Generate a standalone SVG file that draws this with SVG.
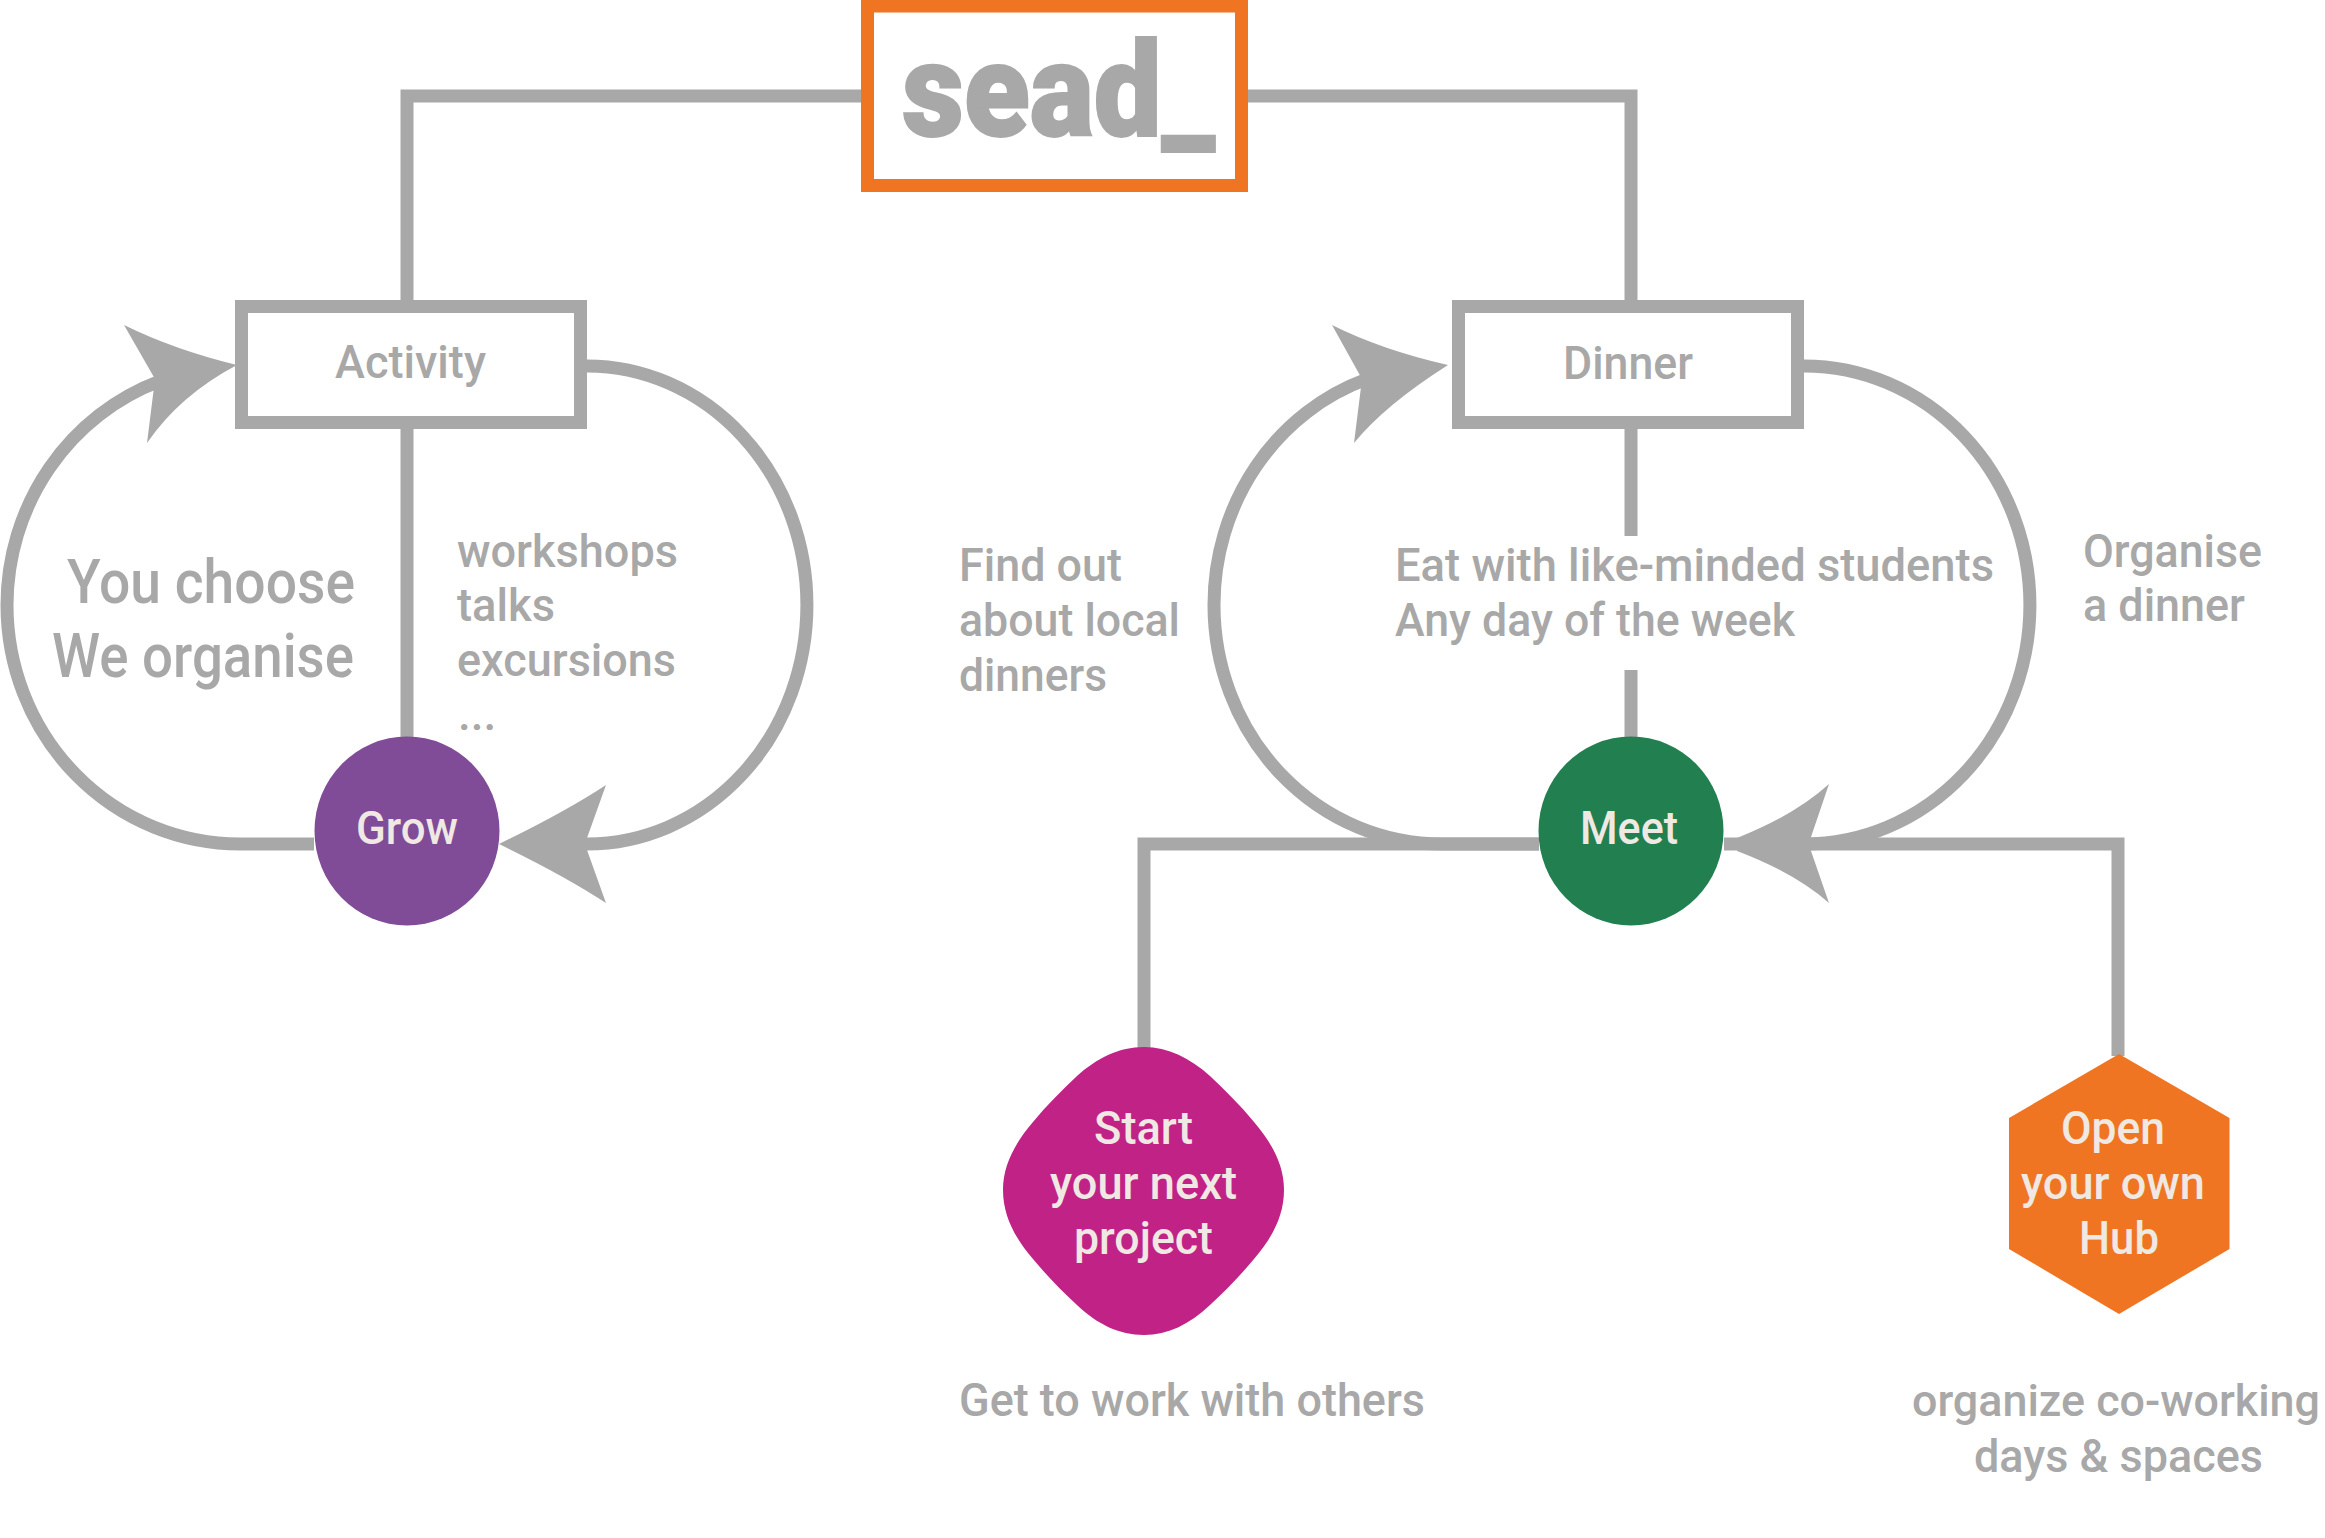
<svg xmlns="http://www.w3.org/2000/svg" width="2325" height="1538" viewBox="0 0 2325 1538">
<style>
text{font-family:Roboto,"Liberation Sans",sans-serif;}
.t{font-size:46px;fill:#a8a8a8;font-weight:500;}
.big{font-size:62px;fill:#a8a8a8;font-weight:500;}
.w{font-size:46px;fill:#efe8e3;font-weight:500;}
.box{fill:#fff;stroke:#a8a8a8;stroke-width:13;}
.c{fill:none;stroke:#a8a8a8;stroke-width:13;}
.a{fill:#a8a8a8;stroke:none;}
</style>
<rect width="2325" height="1538" fill="#fff"/>
<g id="connectors">
<path class="c" d="M861 96H407V300"/>
<path class="c" d="M1236 96H1631V300"/>
<path class="c" d="M407 429V737"/>
<path class="c" d="M1631 429V536"/>
<path class="c" d="M1631 670V737"/>
<path class="c" d="M314 844H240A233 239 0 0 1 7 605A233 239 0 0 1 160 381"/>
<path class="c" d="M587 366A220 239 0 0 1 587 844"/>
<path class="a" d="M237 365Q175 350 124 325L155 379L147 443Q180 395 237 365Z"/>
<path class="a" d="M499 844Q565 812 606 785L587 838V850L606 903Q565 876 499 844Z"/>
<path class="c" d="M1539 844H1442A228 239 0 0 1 1214 605A228 239 0 0 1 1367 379"/>
<path class="c" d="M1804 366A226 239 0 0 1 1804 844"/>
<path class="a" d="M1448 365Q1382 350 1332 325L1362 379L1354 443Q1385 405 1448 365Z"/>
<path class="a" d="M1737 838Q1795 815 1829 784L1811 837V851L1829 903Q1795 873 1737 851Z"/>
<path class="c" d="M1539 844H1144V1050"/>
<path class="c" d="M1724 844H2118V1056"/>
</g>
<g id="sead"><rect x="867.5" y="6" width="374" height="179.5" fill="none" stroke="#f07522" stroke-width="13"/><text x="902" y="136" font-size="132" font-weight="900" fill="#a8a8a8" stroke="#a8a8a8" stroke-width="2" textLength="313" lengthAdjust="spacingAndGlyphs">sead_</text></g>
<g id="activity"><rect class="box" x="241.5" y="306.5" width="339" height="116"/><text class="t" x="335" y="378" textLength="151" lengthAdjust="spacingAndGlyphs">Activity</text></g>
<g id="dinner"><rect class="box" x="1458.5" y="306.5" width="339" height="116"/><text class="t" x="1563" y="379" textLength="130" lengthAdjust="spacingAndGlyphs">Dinner</text></g>
<g id="grow"><ellipse cx="407" cy="831" rx="92.5" ry="94.5" fill="#804c97"/><text class="w" x="356" y="844" textLength="102" lengthAdjust="spacingAndGlyphs">Grow</text></g>
<g id="meet"><ellipse cx="1631" cy="831" rx="92.5" ry="94.5" fill="#227f50"/><text class="w" x="1580" y="844" textLength="98" lengthAdjust="spacingAndGlyphs">Meet</text></g>
<g id="project"><path fill="#c12286" d="M1144 1047C1168 1047 1190 1058 1210 1076C1225 1090 1240 1105 1254 1122C1272 1143 1284 1165 1284 1190C1284 1216 1272 1238 1254 1259C1240 1276 1225 1291 1210 1305C1190 1324 1168 1335 1144 1335C1119 1335 1097 1324 1077 1305C1062 1291 1047 1276 1033 1259C1015 1238 1003 1216 1003 1190C1003 1165 1015 1143 1033 1122C1047 1105 1062 1090 1077 1076C1097 1058 1119 1047 1144 1047Z"/><text class="w" x="1094" y="1144" textLength="99" lengthAdjust="spacingAndGlyphs">Start</text><text class="w" x="1050" y="1199" textLength="187" lengthAdjust="spacingAndGlyphs">your next</text><text class="w" x="1074" y="1254" textLength="139" lengthAdjust="spacingAndGlyphs">project</text></g>
<g id="hub"><path fill="#f07522" d="M2119 1054L2229.5 1118V1249L2119 1314L2009 1249V1118Z"/><text class="w" x="2061" y="1144" textLength="104" lengthAdjust="spacingAndGlyphs">Open</text><text class="w" x="2021" y="1199" textLength="184" lengthAdjust="spacingAndGlyphs">your own</text><text class="w" x="2079" y="1254" textLength="80" lengthAdjust="spacingAndGlyphs">Hub</text></g>
<g id="labels">
<text class="big" x="67" y="603" textLength="288" lengthAdjust="spacingAndGlyphs">You choose</text>
<text class="big" x="52" y="677" textLength="302" lengthAdjust="spacingAndGlyphs">We organise</text>
<text class="t" x="457" y="567" textLength="221" lengthAdjust="spacingAndGlyphs">workshops</text>
<text class="t" x="457" y="621" textLength="98" lengthAdjust="spacingAndGlyphs">talks</text>
<text class="t" x="457" y="676" textLength="219" lengthAdjust="spacingAndGlyphs">excursions</text>
<text class="t" x="458" y="730">...</text>
<text class="t" x="959" y="581" textLength="163" lengthAdjust="spacingAndGlyphs">Find out</text>
<text class="t" x="959" y="636" textLength="221" lengthAdjust="spacingAndGlyphs">about local</text>
<text class="t" x="959" y="691" textLength="148" lengthAdjust="spacingAndGlyphs">dinners</text>
<text class="t" x="1395" y="581" textLength="599" lengthAdjust="spacingAndGlyphs">Eat with like-minded students</text>
<text class="t" x="1395" y="636" textLength="400" lengthAdjust="spacingAndGlyphs">Any day of the week</text>
<text class="t" x="2083" y="567" textLength="179" lengthAdjust="spacingAndGlyphs">Organise</text>
<text class="t" x="2083" y="621" textLength="162" lengthAdjust="spacingAndGlyphs">a dinner</text>
<text class="t" x="959" y="1416" textLength="466" lengthAdjust="spacingAndGlyphs">Get to work with others</text>
<text class="t" x="1912" y="1416" font-size="45" style="font-size:44.5px" textLength="408" lengthAdjust="spacingAndGlyphs">organize co-working</text>
<text class="t" x="1974" y="1472" textLength="289" lengthAdjust="spacingAndGlyphs">days &amp; spaces</text>
</g>
</svg>
